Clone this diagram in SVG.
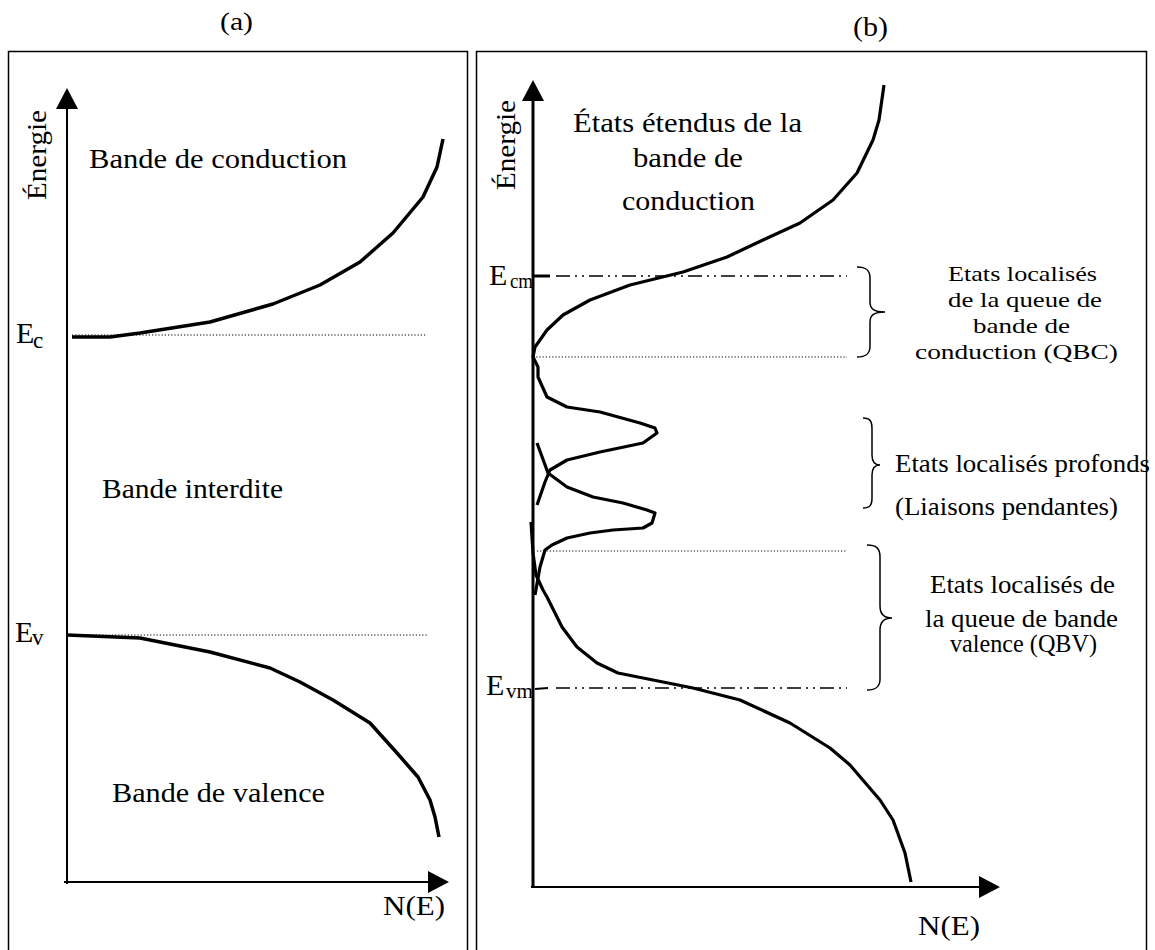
<svg xmlns="http://www.w3.org/2000/svg" width="1155" height="950" viewBox="0 0 1155 950">
<style>
  text { font-family: "Liberation Serif", "Times New Roman", serif; fill: #000; }
  .frame { fill: none; stroke: #000; stroke-width: 1.5; }
  .axis { fill: none; stroke: #000; stroke-width: 2; }
  .axisb { fill: none; stroke: #000; stroke-width: 3; }
  .curve { fill: none; stroke: #000; stroke-width: 3.5; stroke-linejoin: round; stroke-linecap: butt; }
  .curveb { fill: none; stroke: #000; stroke-width: 3.2; stroke-linejoin: round; stroke-linecap: butt; }
  .dot { fill: none; stroke: #000; stroke-width: 1.2; stroke-dasharray: 1.2 2; }
  .dashdot { fill: none; stroke: #000; stroke-width: 1.5; stroke-dasharray: 14 5 2 5 2 5; }
  .brace { fill: none; stroke: #000; stroke-width: 1.5; }
  .big { font-size: 28px; }
  .lab { font-size: 28px; }
  .small { font-size: 24.5px; }
  .tight { font-size: 22px; }
  .e { font-size: 30px; }
  .sub { font-size: 21px; }
</style>
<defs>
  <marker id="arrow" markerUnits="userSpaceOnUse" markerWidth="21" markerHeight="22" refX="17" refY="11" orient="auto">
    <path d="M0,0 L21,11 L0,22 z" fill="#000"/>
  </marker>
  <clipPath id="clipQBC"><rect x="900" y="240" width="240" height="126"/></clipPath>
  <clipPath id="clipLiai"><rect x="880" y="480" width="260" height="43"/></clipPath>
</defs>

<!-- Panel (a) -->
<g id="panel-a">
  <rect class="frame" x="8.5" y="51.5" width="459" height="920"/>
  <text id="title-a" x="220" y="30" style="font-size:26px" textLength="33" lengthAdjust="spacingAndGlyphs">(a)</text>
</g>
<g id="axes-a">
  <line class="axis" x1="67" y1="884" x2="67" y2="92" marker-end="url(#arrow)"/>
  <line class="axis" x1="64" y1="882" x2="445" y2="882" marker-end="url(#arrow)"/>
  <text class="lab" transform="translate(46,200) rotate(-90)" textLength="90" lengthAdjust="spacingAndGlyphs">Énergie</text>
  <text class="lab" x="383" y="915" textLength="62" lengthAdjust="spacingAndGlyphs">N(E)</text>
</g>
<g id="levels-a">
  <line class="dot" x1="72" y1="335" x2="427" y2="335"/>
  <line class="dot" x1="67" y1="635" x2="427" y2="635"/>
  <text class="e" x="16" y="343">E</text><text class="sub" x="33" y="348" style="font-size:23px">c</text>
  <text class="e" x="15" y="642">E</text><text class="sub" x="32" y="645" style="font-size:23px">v</text>
</g>
<g id="curves-a">
  <path class="curve" d="M72,337 L110,337 L140,333 L210,322 L273,304 L320,285 L360,262 L393,233 L423,197 L437,167 L443,139"/>
  <path class="curve" d="M67,635 L140,638 L210,652 L270,668 L300,682 L333,700 L370,723 L397,753 L418,777 L430,800 L435,817 L439,837"/>
</g>
<g id="labels-a">
  <text class="big" x="89" y="168" textLength="258" lengthAdjust="spacingAndGlyphs">Bande de conduction</text>
  <text class="big" x="102" y="498" textLength="181" lengthAdjust="spacingAndGlyphs">Bande interdite</text>
  <text class="big" x="112" y="802" textLength="213" lengthAdjust="spacingAndGlyphs">Bande de valence</text>
</g>

<!-- Panel (b) -->
<g id="panel-b">
  <rect class="frame" x="476.5" y="51.5" width="670" height="920"/>
  <text id="title-b" x="853" y="36" style="font-size:27px" textLength="35" lengthAdjust="spacingAndGlyphs">(b)</text>
</g>
<g id="axes-b">
  <line class="axisb" x1="533" y1="888" x2="533" y2="84" marker-end="url(#arrow)"/>
  <line class="axis" x1="531" y1="887" x2="996" y2="887" marker-end="url(#arrow)"/>
  <text class="lab" transform="translate(515,190) rotate(-90)" textLength="90" lengthAdjust="spacingAndGlyphs">Énergie</text>
  <text class="lab" x="918" y="935" textLength="62" lengthAdjust="spacingAndGlyphs">N(E)</text>
</g>
<g id="levels-b">
  <line x1="533" y1="276" x2="550" y2="276" stroke="#000" stroke-width="3"/>
  <line class="dashdot" x1="556" y1="276" x2="847" y2="276"/>
  <line class="dot" x1="533" y1="357" x2="847" y2="357"/>
  <line class="dot" x1="537" y1="551" x2="847" y2="551"/>
  <line x1="535" y1="689" x2="548" y2="688" stroke="#000" stroke-width="2"/>
  <line class="dashdot" x1="556" y1="688" x2="847" y2="688"/>
  <text class="e" x="489" y="285">E</text><text class="sub" x="510" y="288" textLength="23" lengthAdjust="spacingAndGlyphs">cm</text>
  <text class="e" x="486" y="695">E</text><text class="sub" x="506" y="698" textLength="27" lengthAdjust="spacingAndGlyphs">vm</text>
</g>
<g id="curves-b">
  <path class="curveb" d="M884,85 L879,120 L873,140 L857,173 L833,200 L800,223 L763,240 L727,257 L683,272 L630,285 L590,300 L563,315 L547,330 L535,347 L533,357 L538,367 L538,377 L547,397 L567,407 L600,412 L640,423 L655,428 L657,433 L643,443 L600,452 L567,460 L550,470 L545,482 L537,505"/>
  <path class="curveb" d="M537,443 L548,473 L567,487 L593,497 L623,503 L647,510 L655,513 L652,523 L643,528 L613,530 L590,533 L567,538 L552,545 L545,550 L540,567 L535,595"/>
  <path class="curveb" d="M531,522 L533,553 L536,575 L543,590 L547,597 L562,627 L577,647 L597,663 L618,673 L653,680 L693,688 L740,700 L790,723 L830,748 L850,765 L880,800 L893,820 L905,853 L911,882"/>
</g>
<g id="labels-b">
  <text class="big" x="573" y="132" textLength="229" lengthAdjust="spacingAndGlyphs">États étendus de la</text>
  <text class="big" x="633" y="167" textLength="110" lengthAdjust="spacingAndGlyphs">bande de</text>
  <text class="big" x="622" y="210" textLength="133" lengthAdjust="spacingAndGlyphs">conduction</text>
</g>
<g id="qbc">
  <path class="brace" d="M857,267 C866,267 870,270 870,278 L870,302 C870,309 874,312 885,312 C874,312 870,315 870,322 L870,346 C870,354 866,357 857,357"/>
  <text class="tight" x="948" y="281" textLength="149" lengthAdjust="spacingAndGlyphs">Etats localisés</text>
  <text class="tight" x="948" y="307" textLength="154" lengthAdjust="spacingAndGlyphs">de la queue de</text>
  <text class="tight" x="973" y="333" textLength="97" lengthAdjust="spacingAndGlyphs">bande de</text>
  <text class="tight" x="915" y="359" textLength="203" lengthAdjust="spacingAndGlyphs" clip-path="url(#clipQBC)">conduction (QBC)</text>
</g>
<g id="profonds">
  <path class="brace" d="M863,418 C870,418 872,421 872,429 L872,455 C872,462 875,465 880,465 C875,465 872,468 872,475 L872,498 C872,505 870,508 863,508"/>
  <text class="small" x="895" y="472" textLength="255" lengthAdjust="spacingAndGlyphs">Etats localisés profonds</text>
  <text class="small" x="895" y="515" textLength="223" lengthAdjust="spacingAndGlyphs" clip-path="url(#clipLiai)">(Liaisons pendantes)</text>
</g>
<g id="qbv">
  <path class="brace" d="M867,545 C876,545 880,548 880,557 L880,606 C880,614 884,618 892,618 C884,618 880,622 880,630 L880,679 C880,687 876,690 867,690"/>
  <text class="small" x="930" y="593" textLength="185" lengthAdjust="spacingAndGlyphs">Etats localisés de</text>
  <text class="small" x="925" y="627" textLength="193" lengthAdjust="spacingAndGlyphs">la queue de bande</text>
  <text class="small" x="950" y="652" textLength="147" lengthAdjust="spacingAndGlyphs">valence (QBV)</text>
</g>
</svg>
